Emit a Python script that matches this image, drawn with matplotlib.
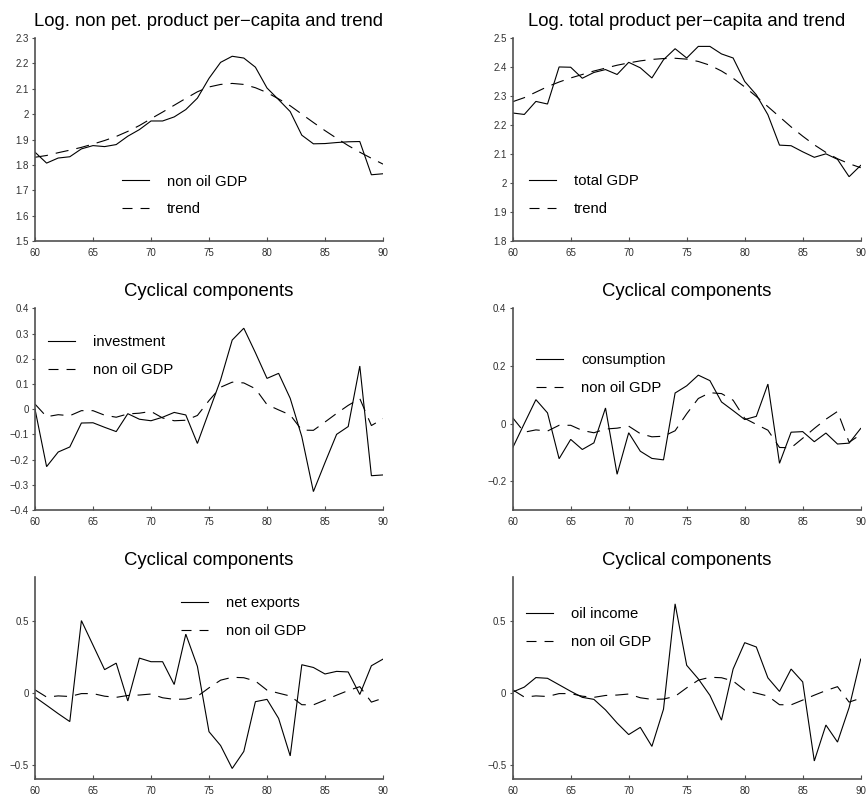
import matplotlib
matplotlib.use("Agg")
import matplotlib.pyplot as plt
from matplotlib.lines import Line2D
from matplotlib.ticker import FixedLocator, FuncFormatter

plt.rcParams["font.family"] = ["Liberation Sans", "DejaVu Sans"]
plt.rcParams["lines.scale_dashes"] = False

# ---- data (years 1960-1990) ----
years = list(range(60, 91))

nonoil_gdp = [1.850, 1.807, 1.827, 1.832, 1.863, 1.876, 1.872, 1.880, 1.913, 1.939,
              1.973, 1.973, 1.989, 2.018, 2.063, 2.141, 2.204, 2.228, 2.221, 2.185,
              2.103, 2.057, 2.010, 1.917, 1.883, 1.884, 1.888, 1.891, 1.892, 1.761,
              1.765]
nonoil_trend = [1.830, 1.837, 1.848, 1.858, 1.869, 1.882, 1.896, 1.912, 1.932, 1.955,
                1.982, 2.008, 2.035, 2.062, 2.088, 2.107, 2.117, 2.121, 2.117, 2.104,
                2.085, 2.060, 2.033, 2.000, 1.967, 1.935, 1.905, 1.876, 1.850, 1.826,
                1.803]

total_gdp = [2.241, 2.236, 2.281, 2.272, 2.400, 2.399, 2.361, 2.381, 2.391, 2.374,
             2.416, 2.397, 2.362, 2.425, 2.463, 2.431, 2.471, 2.471, 2.445, 2.431,
             2.350, 2.304, 2.235, 2.130, 2.128, 2.107, 2.088, 2.100, 2.081, 2.021,
             2.060]
total_trend = [2.280, 2.294, 2.313, 2.332, 2.348, 2.362, 2.374, 2.386, 2.396, 2.406,
               2.414, 2.421, 2.426, 2.429, 2.430, 2.427, 2.419, 2.406, 2.386, 2.361,
               2.331, 2.298, 2.263, 2.228, 2.193, 2.161, 2.131, 2.105, 2.083, 2.066,
               2.052]

nonoil_cycle = [0.020, -0.030, -0.022, -0.026, -0.006, -0.006, -0.024, -0.032, -0.019, -0.016,
                -0.009, -0.035, -0.046, -0.044, -0.025, 0.034, 0.087, 0.107, 0.104, 0.081,
                0.018, -0.003, -0.023, -0.083, -0.084, -0.051, -0.017, 0.015, 0.042, -0.065,
                -0.038]

investment_cycle = [0.000, -0.228, -0.170, -0.150, -0.055, -0.054, -0.072, -0.089, -0.018, -0.040,
                    -0.046, -0.032, -0.013, -0.023, -0.136, -0.010, 0.116, 0.274, 0.321, 0.224,
                    0.122, 0.142, 0.043, -0.109, -0.327, -0.212, -0.100, -0.069, 0.171, -0.264,
                    -0.261]

consumption_cycle = [-0.084, 0.000, 0.083, 0.037, -0.122, -0.055, -0.090, -0.067, 0.054, -0.176,
                     -0.032, -0.096, -0.121, -0.126, 0.106, 0.131, 0.168, 0.149, 0.075, 0.045,
                     0.014, 0.025, 0.137, -0.138, -0.030, -0.028, -0.063, -0.033, -0.071, -0.068,
                     -0.017]

net_exports_cycle = [-0.030, -0.087, -0.145, -0.200, 0.500, 0.330, 0.160, 0.205, -0.057, 0.240,
                     0.215, 0.215, 0.057, 0.406, 0.183, -0.270, -0.366, -0.525, -0.407, -0.062,
                     -0.046, -0.178, -0.438, 0.194, 0.175, 0.130, 0.148, 0.144, -0.012, 0.187,
                     0.233]

oil_income_cycle = [0.005, 0.039, 0.105, 0.100, 0.055, 0.010, -0.032, -0.046, -0.119, -0.210,
                    -0.290, -0.240, -0.372, -0.114, 0.616, 0.190, 0.096, -0.018, -0.190, 0.164,
                    0.347, 0.317, 0.103, 0.009, 0.164, 0.075, -0.473, -0.224, -0.342, -0.103,
                    0.233]

x_ticks = [60, 65, 70, 75, 80, 85, 90]

# ---- figure layout ----
W, H = 868, 801
fig = plt.figure(figsize=(W / 100, H / 100), dpi=100)

def px_axes(left, top, right, bottom):
    return fig.add_axes([left / W, 1 - bottom / H, (right - left) / W, (bottom - top) / H])

PLOT_DASH = (9.4, 5.8)
KEY_DASH = (7.2, 5.8)
LW = 0.8
SPINE_C = "#505050"
TICK_C = "#303030"

def fmt(v, pos):
    s = "%g" % round(v, 6)
    return s.replace("-", "\u2212")

panels = [
    dict(box=(35, 38, 383, 241),
         title="Log. non pet. product per\u2212capita and trend",
         solid=nonoil_gdp, dashed=nonoil_trend,
         labels=("non oil GDP", "trend"),
         ylim=(1.5, 2.3), yticks=[1.5, 1.6, 1.7, 1.8, 1.9, 2.0, 2.1, 2.2, 2.3],
         leg=(0.25, 0.327)),
    dict(box=(512.7, 38, 860.7, 240.7),
         title="Log. total product per\u2212capita and trend",
         solid=total_gdp, dashed=total_trend,
         labels=("total GDP", "trend"),
         ylim=(1.8, 2.5), yticks=[1.8, 1.9, 2.0, 2.1, 2.2, 2.3, 2.4, 2.5],
         leg=(0.047, 0.327)),
    dict(box=(35, 308.3, 383, 510),
         title="Cyclical components",
         solid=investment_cycle, dashed=nonoil_cycle,
         labels=("investment", "non oil GDP"),
         ylim=(-0.4, 0.4), yticks=[-0.4, -0.3, -0.2, -0.1, 0, 0.1, 0.2, 0.3, 0.4],
         leg=(0.037, 0.866)),
    dict(box=(512.7, 308.3, 860.7, 510),
         title="Cyclical components",
         solid=consumption_cycle, dashed=nonoil_cycle,
         labels=("consumption", "non oil GDP"),
         ylim=(-0.3, 0.4), yticks=[-0.2, 0, 0.2, 0.4],
         leg=(0.067, 0.776)),
    dict(box=(35, 577.3, 383, 779.3),
         title="Cyclical components",
         solid=net_exports_cycle, dashed=nonoil_cycle,
         labels=("net exports", "non oil GDP"),
         ylim=(-0.6, 0.8), yticks=[-0.5, 0, 0.5],
         leg=(0.42, 0.906)),
    dict(box=(512.7, 577.3, 860.7, 779.3),
         title="Cyclical components",
         solid=oil_income_cycle, dashed=nonoil_cycle,
         labels=("oil income", "non oil GDP"),
         ylim=(-0.6, 0.8), yticks=[-0.5, 0, 0.5],
         leg=(0.038, 0.852)),
]

for p in panels:
    ax = px_axes(*p["box"])
    ax.plot(years, p["solid"], color="black", lw=LW, solid_joinstyle="miter")
    ax.plot(years, p["dashed"], color="black", lw=LW, dashes=PLOT_DASH)
    ax.set_xlim(60, 90)
    ax.set_ylim(*p["ylim"])
    ax.xaxis.set_major_locator(FixedLocator(x_ticks))
    ax.yaxis.set_major_locator(FixedLocator(p["yticks"]))
    ax.yaxis.set_major_formatter(FuncFormatter(fmt))
    for side in ("top", "right"):
        ax.spines[side].set_visible(False)
    for side in ("left", "bottom"):
        ax.spines[side].set_color(SPINE_C)
        ax.spines[side].set_linewidth(1.2)
    ax.tick_params(axis="x", direction="in", length=3, width=0.8, color=SPINE_C,
                   labelsize=7, labelcolor=TICK_C, pad=5)
    ax.tick_params(axis="y", direction="out", length=2.5, width=0.8, color=SPINE_C,
                   labelsize=7, labelcolor=TICK_C, pad=2)
    ax.set_title(p["title"], fontsize=13.3, pad=8.5)
    handles = [Line2D([], [], color="black", lw=LW),
               Line2D([], [], color="black", lw=LW, dashes=KEY_DASH)]
    ax.legend(handles, p["labels"], loc="upper left", bbox_to_anchor=p["leg"],
              frameon=False, fontsize=10.7, borderpad=0, borderaxespad=0,
              handlelength=1.82, handletextpad=1.2, labelspacing=0.93)

fig.savefig("out.png", dpi=100)
